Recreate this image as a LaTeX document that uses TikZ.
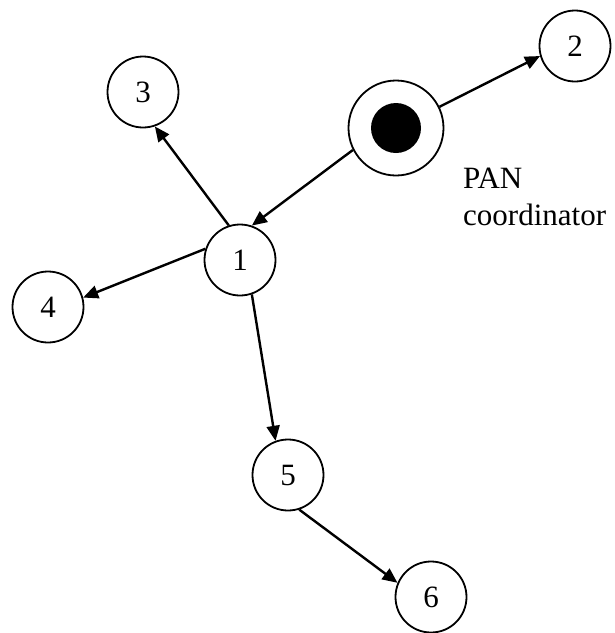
\documentclass[tikz,border=0pt]{standalone}
\usepackage{fontspec}
\setmainfont{Liberation Serif}
\usetikzlibrary{arrows.meta}

\begin{document}
\begin{tikzpicture}[x=1pt, y=-1pt,
		dev/.style={circle, draw, line width=1.8pt, minimum size=71pt, inner sep=0pt, font=\fontsize{31}{37}\selectfont},
		link/.style={line width=2.4pt, -{Triangle[length=15pt, width=13pt]}}]
		\useasboundingbox (0, 0) rectangle (615, 633);

		\node[dev] (n1) at (240, 260)		{1};
		\node[dev] (n2) at (575, 46)		{2};
		\node[dev] (n3) at (143, 92)		{3};
		\node[dev] (n4) at (48, 307)		{4};
		\node[dev] (n5) at (288, 475)		{5};
		\node[dev] (n6) at (431, 597)		{6};
		\node[circle, draw, line width=1.8pt, minimum size=95pt] (pan) at (396, 128) {};
		\node[circle, fill, minimum size=50pt, inner sep=0pt] (hub) at (pan) {};
		\node[anchor=north west, align=left, inner sep=0pt, font=\fontsize{31}{37}\selectfont] (panlabel) at (463, 168) {PAN\\coordinator};

		\draw[link] (pan.26) -- (n2.196);
		\draw[link] (pan.207) -- (n1.71);
		\draw[link] (n1.108) -- (n3.-71);
		\draw[link] (n1.162) -- (n4.15);
		\draw[link] (n1.-71) -- (n5.110);
		\draw[link] (n5.-72) -- (n6.157);
	\end{tikzpicture}
\end{document}
